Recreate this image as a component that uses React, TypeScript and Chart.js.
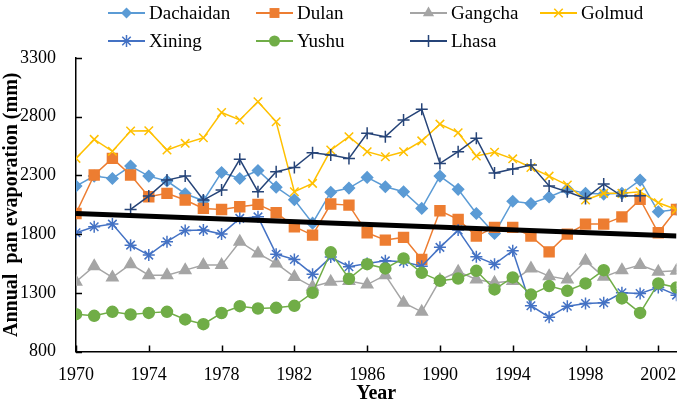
import React, { useEffect, useRef } from "react";
import { Chart, registerables } from "chart.js";

Chart.register(...registerables);

const years = [1970, 1971, 1972, 1973, 1974, 1975, 1976, 1977, 1978, 1979, 1980, 1981, 1982, 1983, 1984, 1985, 1986, 1987, 1988, 1989, 1990, 1991, 1992, 1993, 1994, 1995, 1996, 1997, 1998, 1999, 2000, 2001, 2002, 2003];

const dachaidan = [2209, 2294, 2274, 2380, 2294, 2252, 2144, 2084, 2325, 2274, 2342, 2200, 2093, 1893, 2157, 2192, 2283, 2203, 2161, 2019, 2294, 2181, 1976, 1806, 2080, 2060, 2116, 2181, 2147, 2141, 2147, 2260, 1990, 2010];
const dulan = [1976, 2303, 2445, 2303, 2118, 2147, 2090, 2019, 2010, 2033, 2053, 1982, 1863, 1791, 2056, 2047, 1811, 1749, 1772, 1584, 1999, 1925, 1783, 1857, 1857, 1783, 1649, 1800, 1885, 1885, 1947, 2096, 1811, 2010];
const gangcha = [1394, 1527, 1431, 1544, 1450, 1450, 1493, 1536, 1536, 1735, 1635, 1550, 1435, 1351, 1394, 1400, 1370, 1450, 1215, 1138, 1408, 1480, 1414, 1385, 1400, 1508, 1442, 1414, 1572, 1436, 1493, 1536, 1479, 1487];
const golmud = [2445, 2607, 2505, 2678, 2680, 2516, 2573, 2620, 2836, 2772, 2928, 2757, 2161, 2232, 2516, 2630, 2502, 2459, 2502, 2594, 2737, 2664, 2465, 2497, 2441, 2367, 2294, 2218, 2090, 2147, 2147, 2161, 2067, 2010];
const xining = [1811, 1863, 1885, 1706, 1621, 1735, 1831, 1834, 1800, 1934, 1947, 1629, 1584, 1459, 1604, 1522, 1550, 1572, 1564, 1527, 1687, 1834, 1607, 1544, 1658, 1190, 1092, 1186, 1209, 1215, 1300, 1294, 1346, 1280];
const yushu = [1118, 1104, 1138, 1115, 1129, 1138, 1073, 1033, 1128, 1186, 1166, 1172, 1189, 1300, 1645, 1420, 1544, 1508, 1593, 1470, 1402, 1422, 1487, 1329, 1431, 1285, 1357, 1317, 1380, 1493, 1252, 1129, 1380, 1346];
const lhasa = [null, null, null, 2010, 2124, 2260, 2294, 2090, 2175, 2437, 2161, 2331, 2368, 2493, 2473, 2445, 2658, 2630, 2772, 2863, 2402, 2502, 2616, 2320, 2355, 2388, 2210, 2161, 2104, 2226, 2124, 2127, null, null];

const trendYears = [1970, 2003];
const trendValues = [1976, 1783];

const xTickLabels = [1970, 1974, 1978, 1982, 1986, 1990, 1994, 1998, 2002];
const yTickLabels = [800, 1300, 1800, 2300, 2800, 3300];

const seriesNames = ["Dachaidan", "Dulan", "Gangcha", "Golmud", "Xining", "Yushu", "Lhasa"];
const seriesValues = [dachaidan, dulan, gangcha, golmud, xining, yushu, lhasa];
const seriesColors = ["#5B9BD5", "#ED7D31", "#A5A5A5", "#FFC000", "#4472C4", "#70AD47", "#264478"];
const seriesStyles = ["rectRot", "rect", "triangle", "crossRot", "star", "circle", "cross"];
const seriesRadius = [5.5, 7, 6.5, 6, 6, 5.5, 6];

const FONT = "'Liberation Serif', 'Times New Roman', serif";

function drawMarker(ctx: CanvasRenderingContext2D, style: string, x: number, y: number, r: number, color: string) {
  ctx.save();
  ctx.fillStyle = color;
  ctx.strokeStyle = color;
  ctx.lineWidth = 1.5;
  ctx.beginPath();
  if (style === "rectRot") {
    ctx.moveTo(x, y - r); ctx.lineTo(x + r, y); ctx.lineTo(x, y + r); ctx.lineTo(x - r, y); ctx.closePath(); ctx.fill();
  } else if (style === "rect") {
    const h = r * Math.SQRT1_2;
    ctx.rect(x - h, y - h, 2 * h, 2 * h); ctx.fill();
  } else if (style === "triangle") {
    ctx.moveTo(x, y - r); ctx.lineTo(x + r * 0.866, y + r * 0.5); ctx.lineTo(x - r * 0.866, y + r * 0.5); ctx.closePath(); ctx.fill();
  } else if (style === "circle") {
    ctx.arc(x, y, r, 0, Math.PI * 2); ctx.fill();
  } else if (style === "cross") {
    ctx.moveTo(x - r, y); ctx.lineTo(x + r, y); ctx.moveTo(x, y - r); ctx.lineTo(x, y + r); ctx.stroke();
  } else if (style === "crossRot") {
    const d = r * 0.7071;
    ctx.moveTo(x - d, y - d); ctx.lineTo(x + d, y + d); ctx.moveTo(x + d, y - d); ctx.lineTo(x - d, y + d); ctx.stroke();
  } else if (style === "star") {
    const d = r * 0.7071;
    ctx.moveTo(x - d, y - d); ctx.lineTo(x + d, y + d); ctx.moveTo(x + d, y - d); ctx.lineTo(x - d, y + d);
    ctx.moveTo(x, y - r); ctx.lineTo(x, y + r); ctx.stroke();
  }
  ctx.restore();
}

const legendPlugin = {
  id: "gridLegend",
  afterDraw(chart: any) {
    const ctx = chart.ctx as CanvasRenderingContext2D;
    const cols = [108, 256, 410, 540];
    const rows = [13, 41];
    const lineLen = 37;
    ctx.save();
    ctx.font = "normal 400 19px " + FONT;
    ctx.textBaseline = "middle";
    ctx.textAlign = "left";
    seriesNames.forEach((name, i) => {
      const cx = cols[i % 4];
      const cy = rows[Math.floor(i / 4)];
      ctx.strokeStyle = seriesColors[i];
      ctx.lineWidth = 2;
      ctx.beginPath();
      ctx.moveTo(cx, cy);
      ctx.lineTo(cx + lineLen, cy);
      ctx.stroke();
      drawMarker(ctx, seriesStyles[i], cx + lineLen / 2, cy, seriesRadius[i], seriesColors[i]);
      ctx.fillStyle = "#000";
      ctx.fillText(name, cx + lineLen + 4, cy + 1);
    });
    ctx.restore();
  },
};

const innerTicksPlugin = {
  id: "innerTicks",
  afterDatasetsDraw(chart: any) {
    const ctx = chart.ctx as CanvasRenderingContext2D;
    const xs = chart.scales.x;
    const ys = chart.scales.y;
    const area = chart.chartArea;
    ctx.save();
    ctx.strokeStyle = "#000";
    ctx.lineWidth = 1.5;
    ctx.beginPath();
    xTickLabels.forEach((v) => {
      const px = Math.round(xs.getPixelForValue(v)) + 0.5;
      ctx.moveTo(px, area.bottom);
      ctx.lineTo(px, area.bottom - 6);
    });
    yTickLabels.forEach((v) => {
      const py = Math.round(ys.getPixelForValue(v)) + 0.5;
      ctx.moveTo(area.left, py);
      ctx.lineTo(area.left + 6, py);
    });
    ctx.stroke();
    ctx.restore();
  },
};

export default function App() {
  const canvasRef = useRef<HTMLCanvasElement | null>(null);

  useEffect(() => {
    if (!canvasRef.current) return;
    const datasets: any[] = seriesNames.map((name, i) => ({
      label: name,
      data: years.map((yr, j) => ({ x: yr, y: seriesValues[i][j] })),
      borderColor: seriesColors[i],
      backgroundColor: seriesColors[i],
      borderWidth: 1.5,
      pointStyle: seriesStyles[i],
      pointRadius: seriesRadius[i],
      pointBorderWidth: 1.5,
      pointBorderColor: seriesColors[i],
      pointBackgroundColor: seriesColors[i],
      spanGaps: false,
      order: 10 - i,
    }));
    datasets.push({
      label: "Trend",
      data: trendYears.map((yr, j) => ({ x: yr, y: trendValues[j] })),
      borderColor: "#000",
      borderWidth: 5,
      pointRadius: 0,
      order: 0,
    });

    const chart = new Chart(canvasRef.current, {
      type: "line",
      data: { datasets },
      options: {
        animation: false,
        responsive: false,
        maintainAspectRatio: false,
        layout: { padding: { top: 58, right: 8, left: 0, bottom: 0 } },
        plugins: { legend: { display: false }, tooltip: { enabled: false } },
        scales: {
          x: {
            type: "linear",
            min: 1970,
            max: 2003,
            afterBuildTicks: (scale: any) => {
              scale.ticks = xTickLabels.map((v) => ({ value: v }));
            },
            afterFit: (scale: any) => {
              scale.height = 54.5;
            },
            grid: { display: false },
            border: { display: true, color: "#000", width: 1.5 },
            ticks: {
              color: "#000",
              font: { family: FONT, size: 18 },
              padding: 5,
              maxRotation: 0,
              autoSkip: false,
              callback: (v: any) => String(v),
            },
            title: {
              display: true,
              text: "Year",
              color: "#000",
              font: { family: FONT, size: 20, weight: "bold" },
              padding: { top: 0, bottom: 0 },
            },
          },
          y: {
            type: "linear",
            min: 800,
            max: 3300,
            afterBuildTicks: (scale: any) => {
              scale.ticks = yTickLabels.map((v) => ({ value: v }));
            },
            afterFit: (scale: any) => {
              scale.width = 76;
            },
            grid: { display: false },
            border: { display: true, color: "#000", width: 1.5 },
            ticks: {
              color: "#000",
              font: { family: FONT, size: 18 },
              padding: 12,
              callback: (v: any) => String(v),
            },
            title: {
              display: true,
              text: "Annual  pan evaporation (mm)",
              color: "#000",
              font: { family: FONT, size: 20, weight: "bold" },
              padding: { top: 0, bottom: 0 },
            },
          },
        },
      },
      plugins: [innerTicksPlugin, legendPlugin],
    });
    return () => chart.destroy();
  }, []);

  return (
    <div style={{ position: "fixed", left: 0, top: 0, width: 685, height: 406, background: "#fff" }}>
      <canvas ref={canvasRef} width={685} height={406} style={{ width: 685, height: 406, display: "block" }} />
    </div>
  );
}
